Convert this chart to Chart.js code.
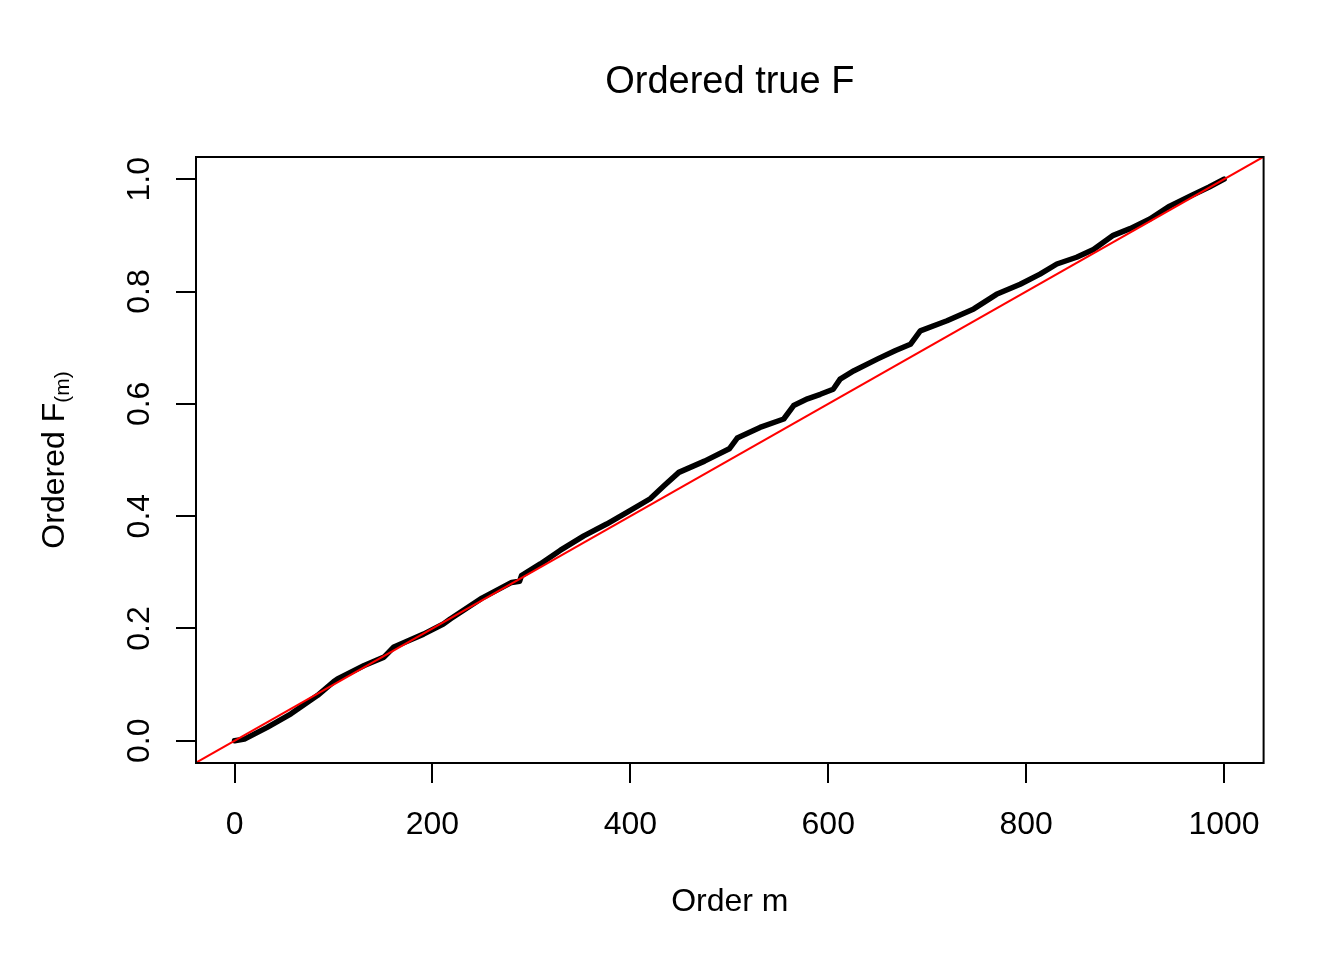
<!DOCTYPE html>
<html>
<head>
<meta charset="utf-8">
<script src="https://cdn.jsdelivr.net/npm/chart.js@4/dist/chart.umd.min.js"></script>
<style>
  body { margin: 0; background: #fff; }
  #wrap { width: 1344px; height: 960px; }
</style>
</head>
<body>
<div id="wrap"><canvas id="myChart"></canvas></div>
<script>
// ordered values (order m, ordered F)
var orderM = [0, 10, 33, 57, 84, 100, 104, 131, 151, 161, 191, 211, 218, 250, 280, 288, 290,
  309, 329, 353, 376, 397, 420, 434, 449, 475, 500, 508, 531, 555, 565, 579, 592, 605, 612,
  626, 650, 668, 683, 693, 720, 747, 770, 794, 814, 831, 851, 868, 888, 905, 925, 945, 966, 985, 1000];
var orderedF = [0.000, 0.003, 0.024, 0.048, 0.081, 0.105, 0.110, 0.134, 0.149, 0.167, 0.190, 0.208, 0.217, 0.254, 0.282, 0.284, 0.294,
  0.315, 0.339, 0.365, 0.386, 0.407, 0.431, 0.454, 0.478, 0.498, 0.520, 0.539, 0.558, 0.573, 0.597, 0.609, 0.617, 0.626, 0.644,
  0.659, 0.680, 0.695, 0.706, 0.730, 0.748, 0.769, 0.795, 0.813, 0.831, 0.849, 0.861, 0.875, 0.900, 0.912, 0.929, 0.952, 0.970, 0.986, 1.000];

// reference line y = x / 1000 (abline)
var refX = [-38.96, 1039.96];
var refSlope = 0.001;

var xTicks = [0, 200, 400, 600, 800, 1000];
var yTicks = [0, 0.2, 0.4, 0.6, 0.8, 1.0];

var FONT = '"Liberation Sans", Arial, Helvetica, sans-serif';
Chart.defaults.font.family = FONT;
Chart.defaults.color = '#000';

var curve = orderM.map(function (m, i) { return { x: m, y: orderedF[i] }; });
var refLine = refX.map(function (x) { return { x: x, y: x * refSlope }; });

// box round the plot region, title and axis titles (centred on the plot region like R)
var frame = {
  id: 'frame',
  afterDraw: function (chart) {
    var c = chart.ctx, a = chart.chartArea;
    var cx = (a.left + a.right) / 2;
    c.save();
    c.strokeStyle = '#000';
    c.lineWidth = 2;
    c.strokeRect(a.left, a.top, a.right - a.left, a.bottom - a.top);

    c.fillStyle = '#000';
    c.textAlign = 'center';
    c.textBaseline = 'alphabetic';
    c.font = '38px ' + FONT;
    c.fillText('Ordered true F', cx, 93);

    c.font = '32px ' + FONT;
    c.fillText('Order m', cx, 911);

    // y title with subscript
    var main = 'Ordered F', sub = '(m)';
    c.font = '32px ' + FONT;
    var w1 = c.measureText(main).width;
    c.font = '21px ' + FONT;
    var w2 = c.measureText(sub).width;
    c.translate(64, (a.top + a.bottom) / 2);
    c.rotate(-Math.PI / 2);
    c.textAlign = 'left';
    var x0 = -(w1 + w2) / 2;
    c.font = '32px ' + FONT;
    c.fillText(main, x0, 0);
    c.font = '21px ' + FONT;
    c.fillText(sub, x0 + w1, 5);
    c.restore();
  }
};

var ctx = document.getElementById('myChart').getContext('2d');

var myChart = new Chart(ctx, {
  type: 'line',
  data: {
    datasets: [{
      label: 'abline',
      data: refLine,
      borderColor: '#ff0000',
      borderWidth: 2,
      pointRadius: 0,
      clip: 0
    }, {
      label: 'Ordered F',
      data: curve,
      borderColor: '#000',
      borderWidth: 5.5,
      borderJoinStyle: 'round',
      borderCapStyle: 'round',
      pointRadius: 0,
      tension: 0
    }]
  },
  options: {
    responsive: true,
    maintainAspectRatio: false,
    animation: false,
    devicePixelRatio: 1,
    layout: { padding: { left: 0, right: 80.4, top: 157, bottom: 0 } },
    plugins: {
      legend: { display: false },
      tooltip: { enabled: false },
      title: { display: false }
    },
    scales: {
      x: {
        type: 'linear',
        min: -38.96,
        max: 1039.96,
        afterBuildTicks: function (s) { s.ticks = xTicks.map(function (v) { return { value: v }; }); },
        afterFit: function (s) { s.height = 197; },
        border: { display: false },
        grid: { display: true, drawOnChartArea: false, drawTicks: true, tickLength: 20, lineWidth: 2, color: '#000' },
        ticks: {
          autoSkip: false,
          maxRotation: 0,
          padding: 23,
          font: { size: 32 },
          color: '#000',
          callback: function (v) { return String(v); }
        }
      },
      y: {
        type: 'linear',
        min: -0.0395,
        max: 1.0395,
        afterBuildTicks: function (s) { s.ticks = yTicks.map(function (v) { return { value: v }; }); },
        afterFit: function (s) { s.width = 196; },
        border: { display: false },
        grid: { display: true, drawOnChartArea: false, drawTicks: true, tickLength: 20, lineWidth: 2, color: '#000' },
        ticks: {
          autoSkip: false,
          minRotation: 90,
          maxRotation: 90,
          crossAlign: 'center',
          padding: 14,
          font: { size: 32 },
          color: '#000',
          callback: function (v) { return v.toFixed(1); }
        }
      }
    }
  },
  plugins: [frame]
});
</script>
</body>
</html>
